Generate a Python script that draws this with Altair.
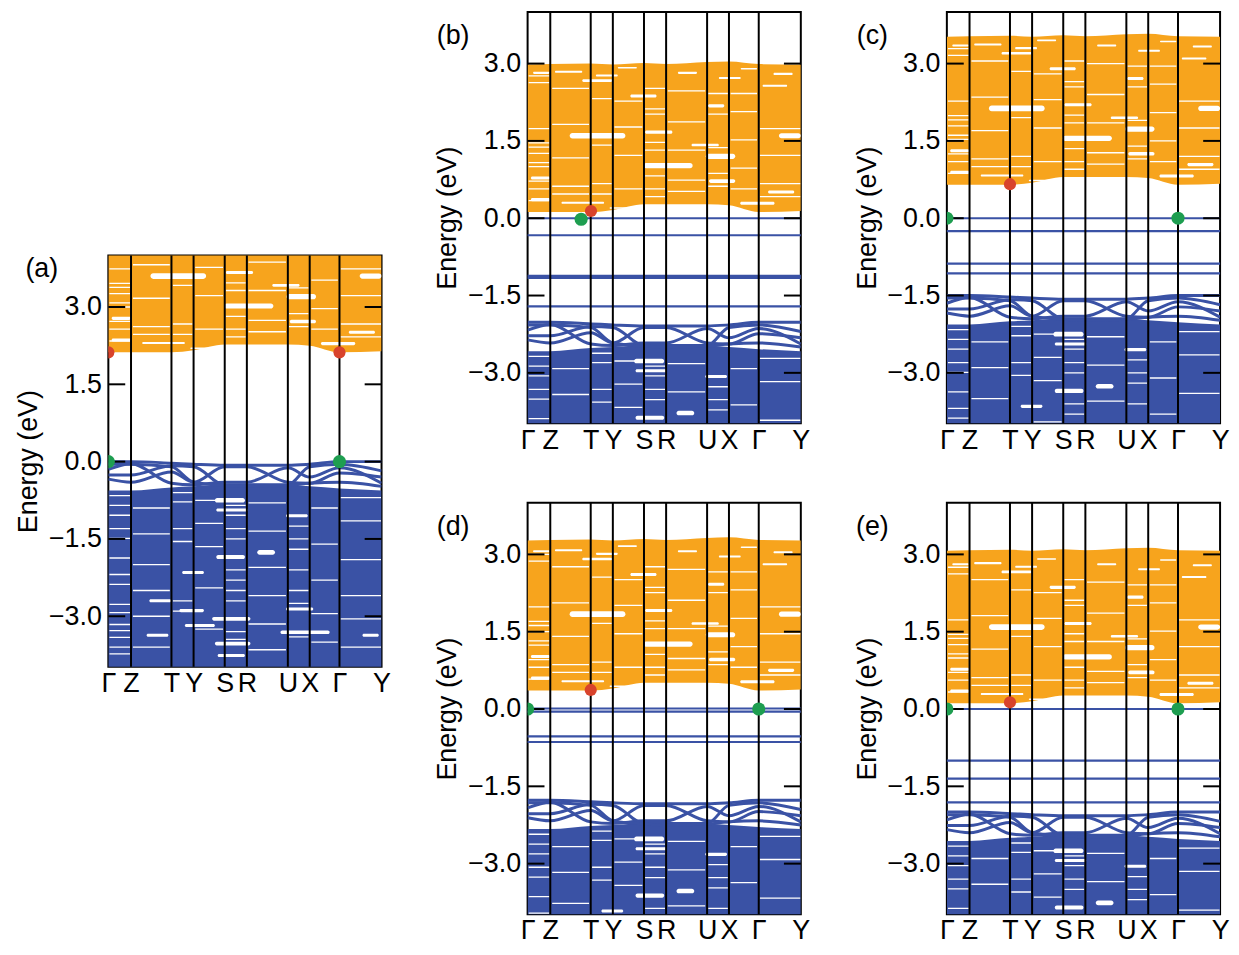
import altair as alt
import pandas as pd

# ---------------- data ----------------
K_NODES = [0.0, 0.083, 0.231, 0.312, 0.426, 0.507, 0.657, 0.737, 0.846, 1.0]
K_LABELS = ["Γ", "Z", "T", "Y", "S", "R", "U", "X", "Γ", "Y"]
E_TICKS = [-3.0, -1.5, 0.0, 1.5, 3.0]
E_DOMAIN = [-3.98, 4.0]

PANEL_NAMES = ["(a)", "(b)", "(c)", "(d)", "(e)"]
CBM = [2.12, 0.12, 0.65, 0.36, 0.11]          # conduction band minimum (eV)
CB_TOP = [5.0, 2.98, 3.52, 3.27, 3.07]        # top of the computed conduction bands
VB_TOP = [0.0, -2.02, -1.50, -1.77, -2.00]    # top of host valence bands

# band-edge shapes along the path (relative to the edges above)
CB_EDGE_REL = [0.0, 0.0, 0.0, 0.04, 0.15, 0.15, 0.15, 0.13, 0.0, 0.02]
CB_TOP_REL = [0.0, 0.01, 0.02, 0.0, 0.03, 0.01, 0.05, 0.06, 0.01, 0.0]
VB_DENSE_REL = [-0.56, -0.56, -0.50, -0.48, -0.44, -0.43, -0.45, -0.48, -0.52, -0.56]

VB_LINE1 = [0.00, 0.00, -0.03, -0.05, -0.07, -0.07, -0.07, -0.05, 0.00, 0.00]
VB_LINE2 = [-0.15, -0.04, -0.42, -0.45, -0.40, -0.40, -0.12, -0.30, -0.12, -0.42]
VB_LINE3 = [-0.26, -0.26, -0.08, -0.10, -0.45, -0.45, -0.45, -0.10, -0.05, -0.18]
VB_LINE4 = [-0.34, -0.40, -0.20, -0.40, -0.10, -0.10, -0.40, -0.42, -0.22, -0.30]
VB_LINE5 = [-0.05, -0.05, -0.10, -0.40, -0.46, -0.48, -0.46, -0.42, -0.40, -0.48]

# flat (defect) levels per panel
FLAT_A = []
FLAT_B = [0.0, -0.33, -1.12, -1.16, -1.71]
FLAT_C = [0.0, -0.25, -0.88, -1.07]
FLAT_D = [0.01, -0.05, -0.53, -0.64]
FLAT_E = [0.0, -1.00, -1.35, -1.81]

# VBM (green) and CBM (red) markers per panel
GREEN_K = [[0.0, 0.846], [0.196], [0.0, 0.846], [0.0, 0.846], [0.0, 0.846]]
GREEN_E = [[0.0, 0.0], [-0.02], [0.0, 0.0], [0.0, 0.0], [0.0, 0.0]]
RED_K = [[0.0, 0.846], [0.232], [0.231], [0.231], [0.231]]
RED_E = [[2.12, 2.12], [0.14], [0.66], [0.37], [0.13]]

# gaps (white lenses) inside the dense conduction-band region, relative to CBM
CB_LENS_K1 = [0.154, 0.92, 0.424, 0.652, 0.664, 0.012, 0.88, 0.012, 0.124, 0.778, 0.376, 0.66, 0.43, 0.30, 0.60, 0.20, 0.86,
              0.02, 0.10, 0.25, 0.55, 0.70, 0.90, 0.33, 0.78]
CB_LENS_K2 = [0.358, 1.0, 0.604, 0.76, 0.76, 0.082, 0.976, 0.082, 0.28, 0.904, 0.472, 0.72, 0.53, 0.42, 0.70, 0.31, 0.95,
              0.08, 0.20, 0.33, 0.62, 0.78, 0.97, 0.40, 0.84]
CB_LENS_REL = [1.48, 1.48, 0.90, 1.08, 0.60, 0.66, 0.39, 0.24, 0.18, 0.17, 2.25, 2.06, 1.55, 0.08, 1.30, 2.55, 2.45,
               2.70, 2.72, 2.65, 2.70, 2.60, 2.68, 2.80, 2.78]
CB_LENS_HALF = [0.055, 0.05, 0.05, 0.05, 0.035, 0.03, 0.03, 0.03, 0.02, 0.03, 0.03, 0.03, 0.03, 0.015, 0.025, 0.025, 0.02,
                0.02, 0.02, 0.02, 0.02, 0.02, 0.02, 0.015, 0.015]

# gaps inside the dense valence-band region, relative to VB_TOP
VB_LENS_K1 = [0.39, 0.395, 0.65, 0.545, 0.395, 0.27, 0.15, 0.65, 0.26, 0.38, 0.28, 0.63, 0.14, 0.39, 0.40, 0.93]
VB_LENS_K2 = [0.50, 0.51, 0.73, 0.61, 0.50, 0.35, 0.23, 0.75, 0.35, 0.52, 0.39, 0.81, 0.22, 0.52, 0.50, 0.99]
VB_LENS_REL = [-0.75, -0.94, -1.05, -1.76, -1.85, -2.15, -2.70, -2.86, -2.89, -3.05, -3.18, -3.31, -3.37, -3.53, -3.76, -3.37]
VB_LENS_HALF = [0.045, 0.03, 0.03, 0.045, 0.04, 0.03, 0.03, 0.03, 0.03, 0.035, 0.03, 0.035, 0.03, 0.035, 0.03, 0.03]

# thin white slits between flat bands, per k-column
CB_SLIT_K1 = [0.004, 0.236, 0.430, 0.661, 0.850, 0.090, 0.318, 0.513, 0.743]
CB_SLIT_K2 = [0.080, 0.308, 0.503, 0.733, 0.998, 0.225, 0.420, 0.650, 0.840]
CB_SLIT_REL = [
    [0.22, 0.45, 0.60, 0.88, 0.96, 1.14, 1.26, 1.34, 1.62, 2.51, 2.64],
    [0.35, 0.55, 1.30, 2.20],
    [0.30, 0.45, 0.70, 1.20, 1.35, 1.90, 2.00, 2.40],
    [0.50, 0.75, 1.25, 1.90, 2.30],
    [0.30, 0.55, 1.10, 1.62],
    [0.35, 0.50, 1.05, 1.70, 2.40],
    [0.45, 1.10, 1.65, 2.15],
    [0.40, 0.62, 1.20, 1.75, 2.35],
    [0.45, 0.85, 1.40, 1.95, 2.30],
]
VB_SLIT_K1 = [0.004, 0.236, 0.430, 0.661, 0.090, 0.318, 0.513, 0.743, 0.850]
VB_SLIT_K2 = [0.080, 0.308, 0.503, 0.733, 0.225, 0.420, 0.650, 0.840, 0.998]
VB_SLIT_REL = [
    [-0.66, -0.85, -1.04, -1.30, -1.49, -1.87, -2.19, -2.38, -2.77, -2.93, -3.16, -3.28, -3.41, -3.60, -3.73],
    [-0.60, -0.78, -1.30, -1.55, -2.70, -2.90],
    [-0.85, -1.04, -1.30, -1.50, -2.10, -2.30, -2.50, -2.70, -3.30, -3.45],
    [-1.25, -1.50, -1.70, -2.10, -2.50, -2.75, -3.40],
    [-0.90, -1.40, -2.00, -2.50, -3.00, -3.60],
    [-0.75, -1.20, -1.65, -2.45, -3.25],
    [-0.80, -1.35, -2.05, -2.60, -3.15, -3.65],
    [-0.90, -1.60, -2.30, -2.95, -3.50],
    [-0.70, -1.15, -1.90, -2.60, -3.05, -3.60],
]

# ---------------- styling ----------------
ORANGE = "#F7A41D"
BLUE = "#3A52A5"
GREEN = "#1E9E50"
RED = "#D8432C"
FONT = "Liberation Sans"
W, H = 275, 414
TICK_LEN = 17

mids = [(K_NODES[i] + K_NODES[i + 1]) / 2 for i in range(len(K_NODES) - 1)]
expr = f"'{K_LABELS[-1]}'"
for m, lab in reversed(list(zip(mids, K_LABELS[:-1]))):
    expr = f"datum.value < {m:.4f} ? '{lab}' : ({expr})"

XS = alt.Scale(domain=[0, 1], nice=False, zero=False)
YS = alt.Scale(domain=E_DOMAIN, nice=False, zero=False)
X_AXIS = alt.Axis(values=K_NODES, labelExpr=expr, ticks=False, domain=False, grid=False,
                  title=None, labelFlush=False, labelOverlap=False, labelPadding=4,
                  labelFontSize=27, labelColor="black", labelFont=FONT)
Y_AXIS = alt.Axis(values=E_TICKS, format=".1f", ticks=False, domain=False, grid=False,
                  title="Energy (eV)", titleFontSize=27, titleFontWeight="normal",
                  titleFont=FONT, titleColor="black", titlePadding=6,
                  labelFontSize=27, labelFont=FONT, labelColor="black", labelPadding=7)


def ex(f):
    return alt.X(f"{f}:Q", scale=XS, axis=X_AXIS)


def ey(f):
    return alt.Y(f"{f}:Q", scale=YS, axis=Y_AXIS)


FLATS = [FLAT_A, FLAT_B, FLAT_C, FLAT_D, FLAT_E]
VB_LINES = [VB_LINE1, VB_LINE2, VB_LINE3, VB_LINE4, VB_LINE5]


def panel(i):
    cbm, vbt = CBM[i], VB_TOP[i]
    cb_area = pd.DataFrame({
        "k": K_NODES,
        "lo": [cbm + r for r in CB_EDGE_REL],
        "hi": [CB_TOP[i] + r for r in CB_TOP_REL],
    })
    vb_area = pd.DataFrame({
        "k": K_NODES,
        "hi": [vbt + r for r in VB_DENSE_REL],
        "lo": [-5.0] * len(K_NODES),
    })
    lens_rows = []
    for k1, k2, r, h in zip(CB_LENS_K1, CB_LENS_K2, CB_LENS_REL, CB_LENS_HALF):
        lens_rows.append({"k1": k1, "k2": k2, "lo": cbm + r - h, "hi": cbm + r + h})
    for k1, k2, r, h in zip(VB_LENS_K1, VB_LENS_K2, VB_LENS_REL, VB_LENS_HALF):
        lens_rows.append({"k1": k1, "k2": k2, "lo": vbt + r - h, "hi": vbt + r + h})
    lens = pd.DataFrame(lens_rows)
    slit_rows = []
    for k1, k2, rels in zip(CB_SLIT_K1, CB_SLIT_K2, CB_SLIT_REL):
        for r in rels:
            slit_rows.append({"k1": k1, "k2": k2, "e": cbm + r})
    for k1, k2, rels in zip(VB_SLIT_K1, VB_SLIT_K2, VB_SLIT_REL):
        for r in rels:
            slit_rows.append({"k1": k1, "k2": k2, "e": vbt + r})
    slits = pd.DataFrame(slit_rows)
    line_rows = []
    for j, ln in enumerate(VB_LINES):
        for k, r in zip(K_NODES, ln):
            line_rows.append({"band": j, "k": k, "e": vbt + r})
    lines = pd.DataFrame(line_rows)

    layers = [
        alt.Chart(cb_area).mark_area(color=ORANGE, interpolate="monotone", clip=True)
        .encode(x=ex("k"), y=ey("lo"), y2="hi:Q"),
        alt.Chart(vb_area).mark_area(color=BLUE, interpolate="monotone", clip=True)
        .encode(x=ex("k"), y=ey("lo"), y2="hi:Q"),
        alt.Chart(lens).mark_rect(color="white", cornerRadius=3, clip=True)
        .encode(x=ex("k1"), x2="k2:Q", y=ey("lo"), y2="hi:Q"),
        alt.Chart(slits).mark_rule(color="white", strokeWidth=1.3, clip=True)
        .encode(x=ex("k1"), x2="k2:Q", y=ey("e")),
        alt.Chart(lines).mark_line(color=BLUE, strokeWidth=3, interpolate="monotone", clip=True)
        .encode(x=ex("k"), y=ey("e"), detail="band:N"),
    ]
    if FLATS[i]:
        layers.append(
            alt.Chart(pd.DataFrame({"e": FLATS[i]})).mark_rule(color=BLUE, strokeWidth=2.2)
            .encode(y=ey("e"))
        )
    layers += [
        alt.Chart(pd.DataFrame({"k": K_NODES[1:-1]})).mark_rule(color="black", strokeWidth=2)
        .encode(x=ex("k")),
        alt.Chart(pd.DataFrame({"e": E_TICKS})).mark_rule(color="black", strokeWidth=2)
        .encode(y=ey("e"), x=alt.value(0), x2=alt.value(TICK_LEN)),
        alt.Chart(pd.DataFrame({"e": E_TICKS})).mark_rule(color="black", strokeWidth=2)
        .encode(y=ey("e"), x=alt.value(W - TICK_LEN), x2=alt.value(W)),
        alt.Chart(pd.DataFrame({"k": GREEN_K[i], "e": GREEN_E[i]}))
        .mark_circle(color=GREEN, size=175, opacity=1, clip=True)
        .encode(x=ex("k"), y=ey("e")),
        alt.Chart(pd.DataFrame({"k": RED_K[i], "e": RED_E[i]}))
        .mark_circle(color=RED, size=150, opacity=1, clip=True)
        .encode(x=ex("k"), y=ey("e")),
    ]
    lx, ly = (-67, 1) if i == 0 else (-75, 11)
    layers.append(
        alt.Chart(pd.DataFrame({"t": [PANEL_NAMES[i]]}))
        .mark_text(font=FONT, fontSize=27, align="center", baseline="top", color="black")
        .encode(text="t:N", x=alt.value(lx), y=alt.value(ly))
    )
    return alt.layer(*layers).properties(width=W, height=H)


pa, pb, pc, pdd, pe = [panel(i) for i in range(5)]

spacer = alt.Chart(pd.DataFrame({"v": [0]})).mark_point(opacity=0).encode(
    x=alt.X("v:Q", axis=None), y=alt.Y("v:Q", axis=None)
).properties(width=W, height=242, view=alt.ViewBackground(stroke="transparent"))

left = alt.vconcat(spacer, pa, spacing=0)
right = alt.vconcat(
    alt.hconcat(pb, pc, spacing=40),
    alt.hconcat(pdd, pe, spacing=40),
    spacing=47,
)
chart = alt.hconcat(left, right, spacing=40).properties(
    padding={"left": 5, "top": -1, "right": 0, "bottom": 0}
).configure(background="white").configure_view(stroke="black", strokeWidth=2)

chart.save("out.html", embed_options={"renderer": "svg", "actions": False})
